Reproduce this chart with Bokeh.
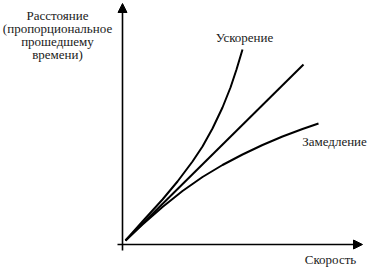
from bokeh.plotting import figure
from bokeh.models import Range1d, Arrow, NormalHead, Label
from bokeh.embed import file_html
from bokeh.resources import INLINE

# Data (units: arbitrary, origin at axes crossing)
line_x = [0.3, 18.1]
line_y = [0.4, 18.0]

accel_x = [0.3, 2.0, 4.0, 5.5, 7.0, 8.0, 9.0, 10.0, 10.8, 11.4, 12.0]
accel_y = [0.4, 2.3, 4.5, 6.3, 8.3, 9.8, 11.6, 13.7, 15.7, 17.5, 19.5]

decel_x = [0.3, 2.0, 4.0, 6.0, 8.0, 10.0, 12.0, 14.0, 16.0, 18.0, 19.6]
decel_y = [0.4, 2.0, 3.75, 5.35, 6.75, 7.95, 9.0, 9.95, 10.8, 11.55, 12.1]

y_label_lines = ["Расстояние", "(пропорциональное", "прошедшему", "времени)"]
x_label = "Скорость"
accel_label = "Ускорение"
decel_label = "Замедление"

FONT = "Times New Roman"
FS = "13px"

p = figure(width=367, height=267, output_backend="svg", toolbar_location=None,
           x_range=Range1d(-12.2, 24.5), y_range=Range1d(-2.3, 24.4),
           min_border=0, min_border_left=0, min_border_right=0,
           min_border_top=0, min_border_bottom=0)
p.axis.visible = False
p.grid.visible = False
p.outline_line_color = None
p.background_fill_color = "white"
p.border_fill_color = "white"

# axes with arrows
p.add_layout(Arrow(end=NormalHead(size=9, fill_color="black", line_color="black"),
                   x_start=0, y_start=-0.6, x_end=0, y_end=24.1,
                   line_width=1.6, line_color="black"))
p.add_layout(Arrow(end=NormalHead(size=9, fill_color="black", line_color="black"),
                   x_start=-0.5, y_start=0, x_end=24.0, y_end=0,
                   line_width=1.6, line_color="black"))

p.line(line_x, line_y, line_color="black", line_width=2, line_join="round")
p.line(accel_x, accel_y, line_color="black", line_width=2, line_join="round")
p.line(decel_x, decel_y, line_color="black", line_width=2, line_join="round")

def lab(x, y, t, align="center", base="middle"):
    p.add_layout(Label(x=x, y=y, text=t, text_font=FONT, text_font_size=FS,
                       text_align=align, text_baseline=base, text_color="#1a1a1a"))

lab(12.2, 20.7, accel_label)
lab(21.2, 10.3, decel_label)
lab(20.8, -1.45, x_label)
for i, t in enumerate(y_label_lines):
    lab(-6.5, 22.9 - 1.3 * i, t)

open("out.html", "w").write(file_html(p, INLINE))
